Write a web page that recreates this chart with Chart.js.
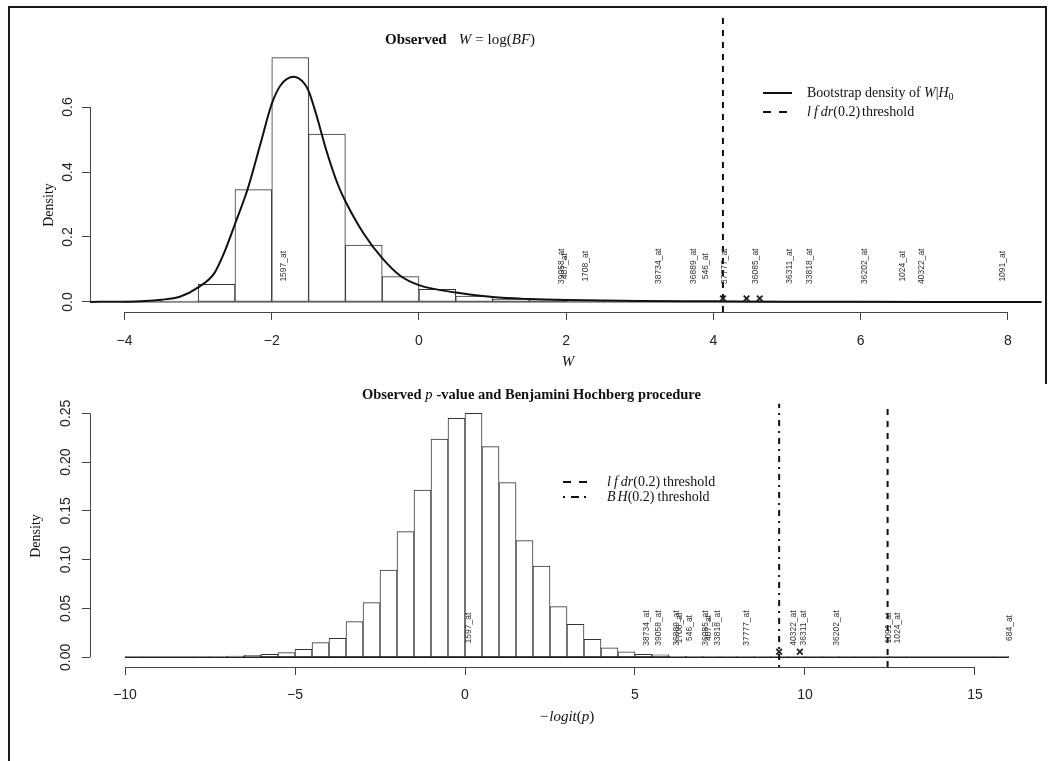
<!DOCTYPE html>
<html>
<head>
<meta charset="utf-8">
<script src="https://cdn.jsdelivr.net/npm/chart.js@4.4.0/dist/chart.umd.min.js"></script>
<style>
  body { margin: 0; background: #fff; width: 1053px; height: 761px; overflow: hidden; position: relative; }
  canvas { position: absolute; left: 0; }
  #topChart { top: 0; }
  #bottomChart { top: 380px; }
  .frame { position: absolute; background: #1a1a1a; }
</style>
</head>
<body>
<div class="frame" style="left:8px;top:6px;width:2px;height:755px"></div>
<div class="frame" style="left:8px;top:6px;width:1039px;height:2px"></div>
<div class="frame" style="left:1045px;top:6px;width:2px;height:378px"></div>
<canvas id="topChart" width="1053" height="380"></canvas>
<canvas id="bottomChart" width="1053" height="381"></canvas>
<script>
// ===============================
// DATA - top panel (W = log BF)
// ===============================
const binWidth = 0.5;

const topBinStarts = [-4.0, -3.5, -3.0, -2.5, -2.0, -1.5, -1.0, -0.5, 0.0, 0.5, 1.0, 1.5,
  2.0, 2.5, 3.0, 3.5, 4.0, 4.5, 5.0, 5.5, 6.0, 6.5, 7.0, 7.5];
const topBinDensity = [0.001, 0.003, 0.054, 0.346, 0.752, 0.517, 0.175, 0.078, 0.039, 0.018, 0.009, 0.006,
  0.004, 0.003, 0.002, 0.002, 0.002, 0.002, 0.001, 0.001, 0.001, 0.0005, 0, 0.0005];

const densityW = [-4.47, -4.0, -3.5, -3.25, -3.0, -2.78, -2.65, -2.5, -2.33, -2.15, -2.0, -1.88, -1.7,
  -1.56, -1.5, -1.4, -1.25, -1.1, -1.0, -0.75, -0.5, -0.25, 0, 0.5, 1.0, 1.5, 2.0, 3.0, 4.0, 5.0, 6.0, 7.0, 8.46];
const densityValue = [0.0003, 0.001, 0.007, 0.016, 0.045, 0.089, 0.15, 0.24, 0.346, 0.49, 0.61, 0.667, 0.693,
  0.673, 0.65, 0.58, 0.46, 0.36, 0.31, 0.21, 0.135, 0.08, 0.052, 0.029, 0.015, 0.009, 0.006, 0.003, 0.002, 0.001, 0.0006, 0.0003, 0.0001];

const topProbeNames = ["1597_at", "39058_at", "407_at", "1708_at", "38734_at", "36889_at", "546_at",
  "37777_at", "36085_at", "36311_at", "33818_at", "36202_at", "1024_at", "40322_at", "1091_at"];
const topProbeW = [-1.84, 1.94, 1.98, 2.26, 3.26, 3.73, 3.90, 4.15, 4.57, 5.04, 5.31, 6.06, 6.57, 6.83, 7.93];
const topLabelY = 0.11;

const topLfdrThreshold = 4.13;
const topMarkW = [4.13, 4.45, 4.63];
const topMarkY = [0.011, 0.011, 0.011];

const topXTicks = [-4, -2, 0, 2, 4, 6, 8];
const topYTicks = [0, 0.2, 0.4, 0.6];

// ===============================
// DATA - bottom panel (-logit p)
// ===============================
const bottomBinStarts = [-10, -9.5, -9, -8.5, -8, -7.5, -7, -6.5, -6, -5.5, -5, -4.5, -4, -3.5, -3, -2.5,
  -2, -1.5, -1, -0.5, 0, 0.5, 1, 1.5, 2, 2.5, 3, 3.5, 4, 4.5, 5, 5.5, 6, 6.5, 7, 7.5, 8, 8.5, 9, 9.5,
  10, 10.5, 11, 11.5, 12, 12.5, 13, 13.5, 14, 14.5, 15, 15.5];
const bottomBinDensity = [0.0006, 0, 0, 0, 0.0004, 0.0006, 0.0013, 0.002, 0.003, 0.0048, 0.0082, 0.015, 0.0195, 0.0365, 0.056, 0.0894,
  0.1287, 0.1714, 0.2236, 0.2449, 0.25, 0.2158, 0.1789, 0.1195, 0.0935, 0.0519, 0.0338, 0.0184, 0.0098, 0.0055, 0.003, 0.0024, 0.001, 0.0008, 0.0006, 0.0005, 0.0004, 0.0004, 0.0005, 0.0003,
  0.0002, 0.0003, 0.0002, 0, 0.0002, 0.0003, 0, 0, 0, 0, 0, 0.0003];

const bottomProbeNames = ["1597_at", "38734_at", "39058_at", "36889_at", "1708_at", "546_at", "36085_at", "407_at",
  "33818_at", "37777_at", "40322_at", "36311_at", "36202_at", "1091_at", "1024_at", "684_at"];
const bottomProbeX = [0.1, 5.34, 5.69, 6.23, 6.32, 6.6, 7.09, 7.16, 7.42, 8.29, 9.66, 9.95, 10.93, 12.45, 12.73, 16.03];
const bottomLabelY = 0.03;

const bottomBhThreshold = 9.24;
const bottomLfdrThreshold = 12.43;
const bottomMarkX = [9.24, 9.85];
const bottomMarkY = [0.0057, 0.0057];

const bottomXTicks = [-10, -5, 0, 5, 10, 15];
const bottomYTicks = [0, 0.05, 0.1, 0.15, 0.2, 0.25];

// ===============================
// HELPERS
// ===============================
const SERIF = '"Liberation Serif", "Times New Roman", serif';
const SANS = '"Liberation Sans", Arial, Helvetica, sans-serif';
const INK = "#222";

function runsWidth(ctx, runs) {
  let w = 0;
  runs.forEach((r) => { ctx.font = r.f; w += ctx.measureText(r.t).width + (r.gap || 0); });
  return w;
}

function drawRuns(ctx, runs, x, y, align) {
  let cx = align === "center" ? x - runsWidth(ctx, runs) / 2 : x;
  ctx.textAlign = "left";
  ctx.textBaseline = "middle";
  ctx.fillStyle = "#111";
  runs.forEach((r) => {
    ctx.font = r.f;
    ctx.fillText(r.t, cx, y + (r.dy || 0));
    cx += ctx.measureText(r.t).width + (r.gap || 0);
  });
}

function legendLine(ctx, x0, x1, y, dash, width) {
  ctx.save();
  ctx.strokeStyle = "#111";
  ctx.lineWidth = width;
  ctx.setLineDash(dash);
  ctx.beginPath();
  ctx.moveTo(x0, y);
  ctx.lineTo(x1, y);
  ctx.stroke();
  ctx.restore();
}

function bars(starts, values) {
  return starts.map((s, i) => ({ x: s + binWidth / 2, y: values[i] }));
}

function xyPoints(xs, ys) {
  return xs.map((x, i) => ({ x: x, y: ys[i] }));
}

function axisStyle(ticks, fmt, tickExtra, extra) {
  return Object.assign({
    type: "linear",
    offset: false,
    afterBuildTicks: (s) => { s.ticks = ticks.map((v) => ({ value: v })); },
    grid: { drawOnChartArea: false, drawTicks: true, tickLength: 8, color: "#444", lineWidth: 1, offset: false },
    border: { display: false },
    ticks: Object.assign({ font: { family: SANS, size: 14 }, color: INK, callback: fmt }, tickExtra)
  }, extra);
}

const minusFmt = (v) => (v < 0 ? "\u2212" + Math.abs(v) : String(v));

// draws the R-style axis lines and rotated probe names
function drawAxesAndProbes(chart, xTicks, yTicks, names, xs, labelY) {
  const ctx = chart.ctx;
  const xs_ = chart.scales.x;
  const ys_ = chart.scales.y;
  const area = chart.chartArea;

  ctx.save();
  ctx.strokeStyle = "#444";
  ctx.lineWidth = 1;
  ctx.beginPath();
  const yb = Math.round(area.bottom) + 0.5;
  ctx.moveTo(xs_.getPixelForValue(xTicks[0]), yb);
  ctx.lineTo(xs_.getPixelForValue(xTicks[xTicks.length - 1]), yb);
  const xl = Math.round(area.left) + 0.5;
  ctx.moveTo(xl, ys_.getPixelForValue(yTicks[0]));
  ctx.lineTo(xl, ys_.getPixelForValue(yTicks[yTicks.length - 1]));
  ctx.stroke();

  ctx.fillStyle = "#333";
  ctx.font = "8.5px " + SANS;
  ctx.textAlign = "center";
  ctx.textBaseline = "middle";
  names.forEach((n, i) => {
    ctx.save();
    ctx.translate(xs_.getPixelForValue(xs[i]), ys_.getPixelForValue(labelY));
    ctx.rotate(-Math.PI / 2);
    ctx.fillText(n, 0, 0);
    ctx.restore();
  });
  ctx.restore();
}

function drawYTitle(ctx, x, y) {
  ctx.save();
  ctx.translate(x, y);
  ctx.rotate(-Math.PI / 2);
  ctx.fillStyle = "#111";
  ctx.font = "14px " + SERIF;
  ctx.textAlign = "center";
  ctx.textBaseline = "middle";
  ctx.fillText("Density", 0, 0);
  ctx.restore();
}

const it = (s) => "italic " + s + "px " + SERIF;
const rm = (s) => s + "px " + SERIF;
const bd = (s) => "bold " + s + "px " + SERIF;

// ===============================
// TOP CHART
// ===============================
const topOverlay = {
  id: "topOverlay",
  afterDraw(chart) {
    const ctx = chart.ctx;
    drawAxesAndProbes(chart, topXTicks, topYTicks, topProbeNames, topProbeW, topLabelY);

    drawRuns(ctx, [
      { t: "Observed", f: bd(15), gap: 12 },
      { t: "W", f: it(15), gap: 4 },
      { t: "=", f: rm(15), gap: 4 },
      { t: "log", f: rm(15) },
      { t: "(", f: rm(15) },
      { t: "BF", f: it(15) },
      { t: ")", f: rm(15) }
    ], 385, 40, "left");

    legendLine(ctx, 763, 792, 93, [], 2);
    drawRuns(ctx, [
      { t: "Bootstrap density of ", f: rm(14) },
      { t: "W", f: it(14) },
      { t: "|", f: rm(14) },
      { t: "H", f: it(14) },
      { t: "0", f: rm(10), dy: 4 }
    ], 807, 93, "left");

    legendLine(ctx, 763, 792, 112, [8, 8], 2);
    drawRuns(ctx, [
      { t: "l", f: it(14), gap: 3 },
      { t: "f", f: it(14), gap: 3 },
      { t: "d", f: it(14) },
      { t: "r", f: it(14) },
      { t: "(0.2)", f: rm(14), gap: 2 },
      { t: "threshold", f: rm(14) }
    ], 807, 112, "left");

    drawRuns(ctx, [{ t: "W", f: it(15) }], 568, 362, "center");
    drawYTitle(ctx, 49, 205);
  }
};

new Chart(document.getElementById("topChart"), {
  type: "bar",
  data: {
    datasets: [
      {
        type: "line",
        data: xyPoints(densityW, densityValue),
        borderColor: "#111",
        borderWidth: 2,
        pointRadius: 0,
        cubicInterpolationMode: "monotone",
        order: 1
      },
      {
        type: "line",
        data: xyPoints([topLfdrThreshold, topLfdrThreshold], [-0.0308, 0.877]),
        borderColor: "#111",
        borderWidth: 2,
        borderDash: [6, 6],
        pointRadius: 0,
        order: 2
      },
      {
        type: "line",
        data: xyPoints(topMarkW, topMarkY),
        showLine: false,
        pointStyle: "crossRot",
        pointRadius: 4,
        pointBorderWidth: 1.8,
        pointBorderColor: "#222",
        order: 0
      },
      {
        type: "line",
        data: xyPoints([topBinStarts[0], topBinStarts[topBinStarts.length - 1] + binWidth], [0, 0]),
        borderColor: "#333",
        borderWidth: 1,
        pointRadius: 0,
        order: 5
      },
      {
        type: "bar",
        data: bars(topBinStarts, topBinDensity),
        backgroundColor: "#fff",
        borderColor: "#333",
        borderWidth: 1,
        borderSkipped: false,
        barPercentage: 1,
        categoryPercentage: 1,
        order: 10
      }
    ]
  },
  options: {
    responsive: false,
    animation: false,
    devicePixelRatio: 1,
    layout: { padding: { left: 0, right: 11, top: 17, bottom: 0 } },
    plugins: { legend: { display: false }, tooltip: { enabled: false } },
    scales: {
      x: axisStyle(topXTicks, minusFmt, { padding: 13, maxRotation: 0 }, {
        min: -4.47, max: 8.465,
        afterFit: (s) => { s.height = 68; }
      }),
      y: axisStyle(topYTicks, (v) => v.toFixed(1), { padding: 4, minRotation: 90, maxRotation: 90, crossAlign: "center" }, {
        min: -0.0308, max: 0.877,
        afterFit: (s) => { s.width = 90; }
      })
    }
  },
  plugins: [topOverlay]
});

// ===============================
// BOTTOM CHART
// ===============================
const bottomOverlay = {
  id: "bottomOverlay",
  afterDraw(chart) {
    const ctx = chart.ctx;
    drawAxesAndProbes(chart, bottomXTicks, bottomYTicks, bottomProbeNames, bottomProbeX, bottomLabelY);

    drawRuns(ctx, [
      { t: "Observed ", f: bd(14.5) },
      { t: "p", f: it(14.5), gap: 4 },
      { t: "-value and Benjamini Hochberg procedure", f: bd(14.5) }
    ], 362, 15, "left");

    legendLine(ctx, 563, 588, 102, [8, 8], 2);
    drawRuns(ctx, [
      { t: "l", f: it(14), gap: 3 },
      { t: "f", f: it(14), gap: 3 },
      { t: "d", f: it(14) },
      { t: "r", f: it(14) },
      { t: "(0.2)", f: rm(14), gap: 3 },
      { t: "threshold", f: rm(14) }
    ], 607, 102, "left");

    legendLine(ctx, 563, 588, 117, [2, 6, 8, 5], 2);
    drawRuns(ctx, [
      { t: "B", f: it(14), gap: 2 },
      { t: "H", f: it(14) },
      { t: "(0.2)", f: rm(14), gap: 3 },
      { t: "threshold", f: rm(14) }
    ], 607, 117, "left");

    drawRuns(ctx, [
      { t: "\u2212", f: rm(15), gap: 1 },
      { t: "logit", f: it(15) },
      { t: "(", f: rm(15) },
      { t: "p", f: it(15) },
      { t: ")", f: rm(15) }
    ], 567, 337, "center");
    drawYTitle(ctx, 36, 156);
  }
};

new Chart(document.getElementById("bottomChart"), {
  type: "bar",
  data: {
    datasets: [
      {
        type: "line",
        data: xyPoints([bottomBhThreshold, bottomBhThreshold], [-0.00994, 0.26]),
        borderColor: "#111",
        borderWidth: 2,
        borderDash: [2, 5, 6, 5],
        pointRadius: 0,
        order: 2
      },
      {
        type: "line",
        data: xyPoints([bottomLfdrThreshold, bottomLfdrThreshold], [-0.00994, 0.26]),
        borderColor: "#111",
        borderWidth: 2,
        borderDash: [6, 6],
        pointRadius: 0,
        order: 2
      },
      {
        type: "line",
        data: xyPoints(bottomMarkX, bottomMarkY),
        showLine: false,
        pointStyle: "crossRot",
        pointRadius: 4,
        pointBorderWidth: 1.8,
        pointBorderColor: "#222",
        order: 0
      },
      {
        type: "line",
        data: xyPoints([bottomBinStarts[0], bottomBinStarts[bottomBinStarts.length - 1] + binWidth], [0, 0]),
        borderColor: "#222",
        borderWidth: 1.5,
        pointRadius: 0,
        order: 5
      },
      {
        type: "bar",
        data: bars(bottomBinStarts, bottomBinDensity),
        backgroundColor: "#fff",
        borderColor: "#333",
        borderWidth: 1,
        borderSkipped: false,
        barPercentage: 1,
        categoryPercentage: 1,
        order: 10
      }
    ]
  },
  options: {
    responsive: false,
    animation: false,
    devicePixelRatio: 1,
    layout: { padding: { left: 0, right: 9, top: 23.5, bottom: 0 } },
    plugins: { legend: { display: false }, tooltip: { enabled: false } },
    scales: {
      x: axisStyle(bottomXTicks, minusFmt, { padding: 12, maxRotation: 0 }, {
        min: -11.03, max: 17.03,
        afterFit: (s) => { s.height = 94; }
      }),
      y: axisStyle(bottomYTicks, (v) => v.toFixed(2), { padding: 2, minRotation: 90, maxRotation: 90, crossAlign: "center" }, {
        min: -0.00994, max: 0.26,
        afterFit: (s) => { s.width = 90; }
      })
    }
  },
  plugins: [bottomOverlay]
});
</script>
</body>
</html>
